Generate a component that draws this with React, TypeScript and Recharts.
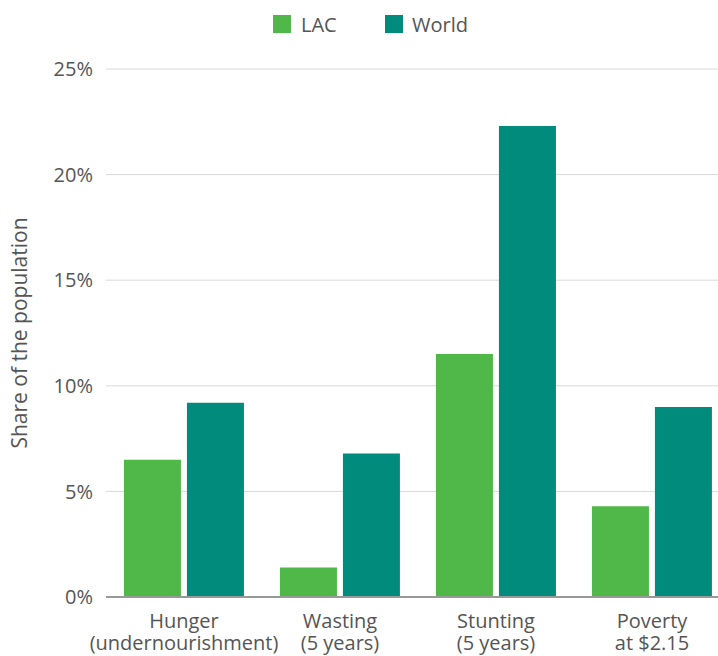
import { BarChart, Bar, XAxis, YAxis, CartesianGrid } from "recharts";

const categories = ["Hunger|(undernourishment)", "Wasting|(5 years)", "Stunting|(5 years)", "Poverty|at $2.15"];
const lacValues = [6.5, 1.4, 11.5, 4.3];
const worldValues = [9.2, 6.8, 22.3, 9.0];
const yTicks = [0, 5, 10, 15, 20, 25];

const LAC_COLOR = "#50b848";
const WORLD_COLOR = "#008b7c";
const TEXT = "#555555";
const FONT = "'Open Sans', sans-serif";

const data = categories.map((name, i) => ({
  name,
  lac: lacValues[i],
  world: worldValues[i],
}));

function CategoryTick(props: any) {
  const { x, y, payload } = props;
  const lines = String(payload.value).split("|");
  return (
    <g transform={`translate(${x},${y})`}>
      {lines.map((line, i) => (
        <text
          key={i}
          x={0}
          y={23 + i * 22}
          textAnchor="middle"
          fill={TEXT}
          fontSize={20}
          fontFamily={FONT}
        >
          {line}
        </text>
      ))}
    </g>
  );
}

export default function App() {
  return (
    <div
      style={{
        position: "absolute",
        left: 0,
        top: 0,
        width: 718,
        height: 656,
        overflow: "hidden",
        background: "#fff",
      }}
    >
      <div
        style={{
          position: "absolute",
          top: 15,
          left: 273,
          height: 18,
          display: "flex",
          alignItems: "center",
          fontFamily: FONT,
          fontSize: 20,
          color: TEXT,
          zIndex: 1,
        }}
      >
        <span style={{ width: 18, height: 18, background: LAC_COLOR, display: "inline-block" }} />
        <span style={{ marginLeft: 10, width: 84 }}>LAC</span>
        <span style={{ width: 18, height: 18, background: WORLD_COLOR, display: "inline-block" }} />
        <span style={{ marginLeft: 9 }}>World</span>
      </div>
      <BarChart
        width={730}
        height={656}
        data={data}
        margin={{ top: 69, right: 0, left: 0, bottom: 0 }}
        barCategoryGap="11.5%"
        barGap={6}
      >
        <CartesianGrid vertical={false} stroke="#d9d9d9" />
        <XAxis
          dataKey="name"
          height={59}
          tick={<CategoryTick />}
          tickLine={false}
          axisLine={{ stroke: "#999999", strokeWidth: 2 }}
          interval={0}
        />
        <YAxis
          width={106}
          domain={[0, 25]}
          ticks={yTicks}
          tickFormatter={(v) => `${v}%`}
          axisLine={false}
          tickLine={false}
          tickMargin={7}
          tick={{ fill: TEXT, fontSize: 20, fontFamily: FONT }}
          label={{
            content: ({ viewBox }: any) => {
              const cy = viewBox.y + viewBox.height / 2;
              return (
                <text
                  x={27}
                  y={cy}
                  transform={`rotate(-90, 27, ${cy})`}
                  textAnchor="middle"
                  fill={TEXT}
                  fontSize={21}
                  fontFamily={FONT}
                >
                  Share of the population
                </text>
              );
            },
          }}
        />
        <Bar dataKey="lac" name="LAC" fill={LAC_COLOR} isAnimationActive={false} />
        <Bar dataKey="world" name="World" fill={WORLD_COLOR} isAnimationActive={false} />
      </BarChart>
    </div>
  );
}
